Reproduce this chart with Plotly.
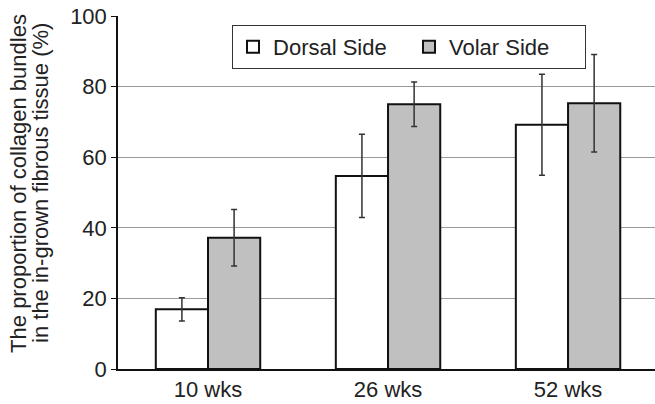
import plotly.graph_objects as go

categories = ["10 wks", "26 wks", "52 wks"]
dorsal = [16.9, 54.7, 69.2]
dorsal_err = [3.3, 11.8, 14.3]
volar = [37.2, 75.0, 75.3]
volar_err = [8.0, 6.3, 13.8]
y_ticks = [0, 20, 40, 60, 80, 100]
y_title_lines = ["The proportion of collagen bundles", "in the in-grown fibrous tissue (%)"]

FONT = "Liberation Sans, Arial, Helvetica, sans-serif"
TXT = "#222222"

fig = go.Figure()
fig.add_trace(go.Bar(
    name="Dorsal Side", x=categories, y=dorsal,
    marker=dict(color="white", line=dict(color="#111111", width=2)),
    error_y=dict(type="data", array=dorsal_err, color="#333333", thickness=1.5, width=3),
))
fig.add_trace(go.Bar(
    name="Volar Side", x=categories, y=volar,
    marker=dict(color="#c0c0c0", line=dict(color="#111111", width=2)),
    error_y=dict(type="data", array=volar_err, color="#333333", thickness=1.5, width=3),
))

fig.update_layout(
    width=655, height=404,
    margin=dict(l=118, r=0, t=16, b=35),
    paper_bgcolor="white", plot_bgcolor="white",
    barmode="group", bargap=0.42, bargroupgap=0,
    font=dict(family=FONT, size=22, color=TXT),
    showlegend=True,
    legend=dict(
        orientation="h", x=0.2123, y=0.9745, xanchor="left", yanchor="top",
        bordercolor="#333333", borderwidth=1, bgcolor="white",
        font=dict(family=FONT, size=22, color=TXT),
        entrywidth=131, entrywidthmode="pixels",
    ),
    xaxis=dict(
        range=[-0.5, 2.483], showline=True, linecolor="#111111", linewidth=2,
        ticks="", showgrid=False, tickfont=dict(size=22, color=TXT), automargin=False,
    ),
    yaxis=dict(
        range=[0, 100], tickvals=y_ticks, showline=True, linecolor="#111111",
        linewidth=1.5, ticks="outside", ticklen=5, tickcolor="#111111",
        showgrid=True, gridcolor="#9a9a9a", gridwidth=1,
        tickfont=dict(size=22, color=TXT), zeroline=False, automargin=False,
    ),
    annotations=[
        dict(text=y_title_lines[0], xref="paper", yref="paper", x=-0.1845, y=0.527,
             xanchor="center", yanchor="middle", textangle=-90, showarrow=False,
             font=dict(family=FONT, size=22, color=TXT)),
        dict(text=y_title_lines[1], xref="paper", yref="paper", x=-0.1434, y=0.527,
             xanchor="center", yanchor="middle", textangle=-90, showarrow=False,
             font=dict(family=FONT, size=22, color=TXT)),
    ],
)

fig.write_html("out.html", config={"displayModeBar": False},
               post_script="document.body.style.margin='0';")
